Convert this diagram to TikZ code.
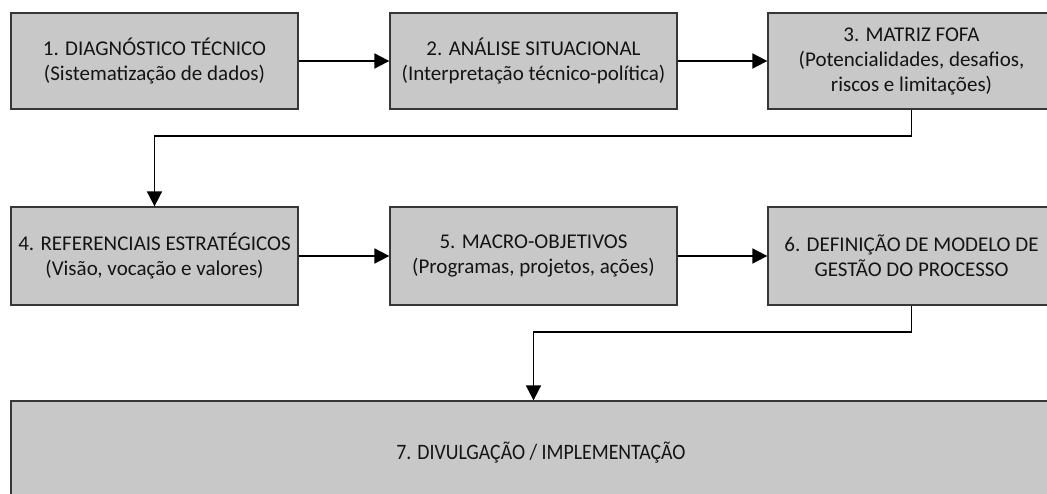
\documentclass[tikz,border=0pt]{standalone}
\usepackage{fontspec}
\setmainfont{Carlito}
\usetikzlibrary{arrows.meta,calc}
\definecolor{boxfill}{RGB}{200,200,200}
\definecolor{boxline}{RGB}{55,55,55}
\definecolor{txt}{RGB}{20,20,20}
\tikzset{
  stepbox/.style={draw=boxline, line width=1.3pt, fill=boxfill, rectangle,
    minimum width=287pt, minimum height=96pt, inner sep=0pt,
    align=center, font=\fontsize{21}{25}\selectfont, text=txt},
  arr/.style={line width=1.8pt, -{Triangle[length=15pt,width=15pt]}}
}
\begin{document}
\begin{tikzpicture}[x=1pt,y=-1pt]
\clip (0,0) rectangle (1047,494);
\fill[white] (0,0) rectangle (1047,494);
\node[stepbox] (n1) at (154.5,61) {1. DIAGNÓSTICO TÉCNICO\\(Sistematização de dados)};
\node[stepbox] (n2) at (533.5,61) {2. ANÁLISE SITUACIONAL\\(Interpretação técnico-política)};
\node[stepbox] (n3) at (911.5,61) {3. MATRIZ FOFA\\(Potencialidades, desafios,\\riscos e limitações)};
\node[stepbox, minimum height=98pt] (n4) at (154.5,256) {4. REFERENCIAIS ESTRATÉGICOS\\(Visão, vocação e valores)};
\node[stepbox, minimum height=98pt] (n5) at (533.5,256) {5. MACRO-OBJETIVOS\\(Programas, projetos, ações)};
\node[stepbox, minimum height=98pt] (n6) at (911.5,256) {6. DEFINIÇÃO DE MODELO DE\\GESTÃO DO PROCESSO};
\node[stepbox, minimum width=1060pt, minimum height=110pt, font=\fontsize{22}{25}\selectfont] (n7) at (541,456)
  {\raisebox{11pt}{\scalebox{0.9}[1]{7. DIVULGAÇÃO / IMPLEMENTAÇÃO}}};
\draw[arr] (n1) -- (n2);
\draw[arr] (n2) -- (n3);
\draw[arr] (n4) -- (n5);
\draw[arr] (n5) -- (n6);
\draw[arr] (n3.south) -- ++(0,26) -| (n4.north);
\draw[arr] (n6.south) -- ++(0,26) -| (n5.south |- n7.north);
\end{tikzpicture}
\end{document}
